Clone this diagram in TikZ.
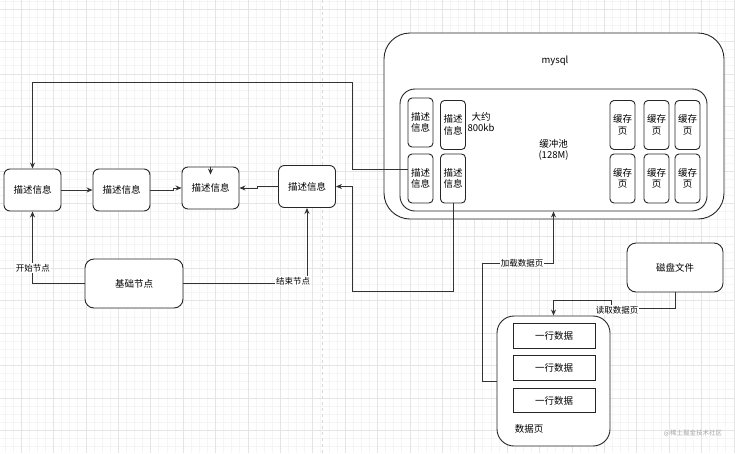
\documentclass[tikz,border=0pt]{standalone}
\usepackage{fontspec}
\setmainfont{Noto Sans CJK SC}
\usetikzlibrary{arrows.meta,calc}
\begin{document}
\begin{tikzpicture}[x=1pt,y=-1pt,
 box/.style={draw=black!85, line width=0.9pt, rounded corners=6pt, fill=white, inner sep=0pt, align=center, font=\fontsize{9.5}{11.5}\selectfont},
 mbox/.style={box, minimum width=57pt, minimum height=42pt},
 sbox/.style={box, rounded corners=4pt, minimum width=25pt, minimum height=49pt},
 rowbox/.style={draw=black!85, line width=0.9pt, fill=white, minimum width=82pt, minimum height=24.5pt, inner sep=0pt, font=\fontsize{9.5}{11.5}\selectfont},
 arr/.style={draw=black!80, line width=0.8pt, -{Stealth[length=6pt,width=5pt]}},
 conn/.style={draw=black!80, line width=0.8pt},
 lbl/.style={fill=white, inner sep=1pt, font=\fontsize{8.5}{10}\selectfont},
 txt/.style={inner sep=0pt, align=center, font=\fontsize{9.5}{11.5}\selectfont}
]
\useasboundingbox (0,0) rectangle (735,453);
\fill[white] (0,0) rectangle (735,453);
% background grid
\begin{scope}
\clip (0,0) rectangle (735,453);
\foreach \k in {-3,...,90} {
  \pgfmathsetmacro\xx{21+8.1*\k}
  \draw[black!4, line width=0.5pt] (\xx,0) -- (\xx,453);
}
\foreach \k in {-2,...,56} {
  \pgfmathsetmacro\yy{9+8.1*\k}
  \draw[black!4, line width=0.5pt] (0,\yy) -- (735,\yy);
}
\foreach \k in {-1,...,23} {
  \pgfmathsetmacro\xx{21+32.4*\k}
  \draw[black!10, line width=0.5pt] (\xx,0) -- (\xx,453);
}
\foreach \k in {0,...,14} {
  \pgfmathsetmacro\yy{9+32.4*\k}
  \draw[black!10, line width=0.5pt] (0,\yy) -- (735,\yy);
}
\draw[black!15, dashed, line width=0.5pt] (322,0) -- (322,453);
\end{scope}

% left chain
\node[mbox] (A) at (32.5,190) {描述信息};
\node[mbox] (B) at (121.5,190) {描述信息};
\node[mbox] (C) at (210.5,188) {描述信息};
\node[mbox] (D) at (307,186.5) {描述信息};
\node[box, minimum width=98pt, minimum height=49pt, rounded corners=9pt] (base) at (134,283.5) {基础节点};

% mysql
\node[box, minimum width=340pt, minimum height=186pt, rounded corners=26pt] (mysql) at (554,126) {};
\node[txt] (mysqlt) at (555,61) {mysql};
\node[box, minimum width=307pt, minimum height=122pt, rounded corners=15pt] (pool) at (553.5,150) {缓冲池\\(128M)};
\node[sbox] (tl1) at (420.5,122.5) {描述\\信息};
\node[sbox] (tl2) at (453,125) {描述\\信息};
\node[sbox] (bl1) at (420.5,178.5) {描述\\信息};
\node[sbox] (bl2) at (453,178.5) {描述\\信息};
\node[txt] (about) at (481,122) {大约\\800kb};
\node[sbox] (c1) at (622.5,125) {缓存\\页};
\node[sbox] (c2) at (656.5,125) {缓存\\页};
\node[sbox] (c3) at (687.5,125) {缓存\\页};
\node[sbox] (c4) at (622.5,178.5) {缓存\\页};
\node[sbox] (c5) at (656.5,178.5) {缓存\\页};
\node[sbox] (c6) at (687.5,178.5) {缓存\\页};

% disk and data page
\node[box, minimum width=96pt, minimum height=49pt, rounded corners=9pt] (disk) at (675,267.5) {磁盘文件};
\node[box, minimum width=113pt, minimum height=130pt, rounded corners=17pt] (page) at (553.5,381) {};
\node[rowbox] (r1) at (554,336) {一行数据};
\node[rowbox] (r2) at (554,368) {一行数据};
\node[rowbox] (r3) at (554,400.5) {一行数据};
\node[txt] (paget) at (529,429) {数据页};

% connectors
\draw[arr] (A) -- (B);
\draw[arr] (B.east) -- ++(23,0) |- (C.west);
\draw[arr] (D.west) -- ++(-21,0) |- (C.east);
\draw[arr] (C.north) -- ++(0,8);
\draw[arr] ([yshift=9.5pt]bl1.west) -| (352,82) -| (A.north);
\draw[arr] (bl2.south) |- (352,291) |- (D.east);
\draw[arr] (base.west) -| (A.south);
\draw[arr] (base.east) -| (D.south);
\node[lbl] (l1) at (33,268) {开始节点};
\node[lbl] (l2) at (293,281) {结束节点};
\draw[arr] (page.west) -| (482,263) -| (pool.south);
\node[lbl] (l3) at (522,263) {加载数据页};
\draw[arr] (disk.south) -- (675,308) -- (611,308) -- (611,300) -- (553.5,300) -- (page.north);
\node[lbl] (l4) at (617,310) {读取数据页};

\node[inner sep=0pt, text=black!35, font=\fontsize{6.5}{8}\selectfont] (wm) at (693,433) {@稀土掘金技术社区};
\end{tikzpicture}
\end{document}
